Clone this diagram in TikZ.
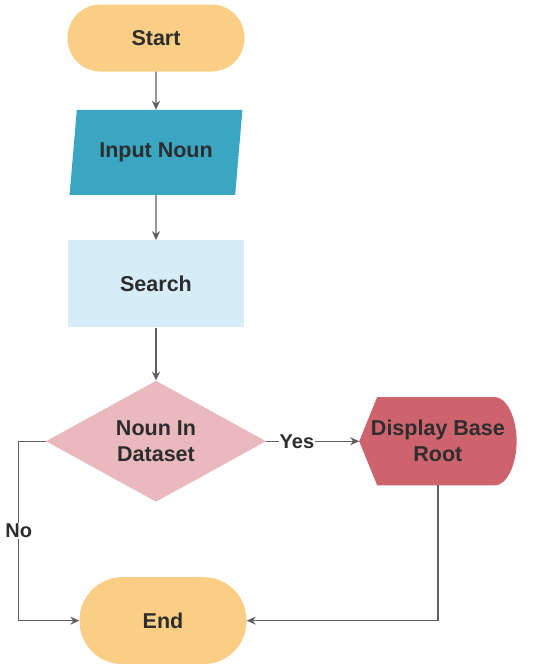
\documentclass[tikz,border=0pt]{standalone}
\usepackage{fontspec}
\setmainfont{Liberation Sans}
\usetikzlibrary{shapes,arrows.meta,positioning,backgrounds}
\definecolor{termcol}{RGB}{250,206,132}
\definecolor{inputcol}{RGB}{58,166,194}
\definecolor{searchcol}{RGB}{214,236,247}
\definecolor{deccol}{RGB}{233,185,189}
\definecolor{dispcol}{RGB}{205,99,109}
\definecolor{linecol}{RGB}{95,95,95}
\definecolor{txtcol}{RGB}{45,45,45}

\begin{document}
\begin{tikzpicture}[x=1pt, y=-1pt, node distance=38pt,
	box/.style={font=\fontsize{21.5}{26}\selectfont\bfseries, text=txtcol, align=center, inner sep=0pt},
	term/.style={box, rectangle, fill=termcol, rounded corners=33pt, minimum width=177pt, minimum height=67pt},
	inbox/.style={box, trapezium, trapezium left angle=75, trapezium right angle=105, trapezium stretches=true, fill=inputcol, minimum width=173pt, minimum height=85pt},
	procbox/.style={box, rectangle, fill=searchcol, minimum width=176pt, minimum height=87pt},
	decbox/.style={box, diamond, fill=deccol, minimum width=220pt, minimum height=115pt},
	dispbox/.style={box, rectangle, minimum width=157pt, minimum height=88pt},
	arr/.style={draw=linecol, line width=1.3pt, -{Stealth[length=9pt,width=8pt]}},
	lbl/.style={fill=white, text=txtcol, font=\fontsize{20}{24}\selectfont\bfseries, inner sep=1pt}]
	\useasboundingbox (0,0) rectangle (542,664);
	\node[term] (start) at (156,38) {Start};
	\node[inbox] (inp) [below=38pt of start] {Input Noun};
	\node[procbox] (search) [below=45pt of inp] {Search};
	\node[decbox] (dec) [below=53pt of search] {Noun In\\Dataset};
	\node[dispbox] (disp) [right=93pt of dec] {Display Base\\Root};
	\node[term, minimum width=167pt, minimum height=87pt, rounded corners=43pt] (end) [below=75pt of dec, xshift=7pt] {End};
	\begin{scope}[on background layer]
		\fill[dispcol] (disp.west) -- ([xshift=18pt]disp.north west) -- ([xshift=-22pt]disp.north east)
			.. controls +(12pt,0pt) and +(0pt,24pt) .. (disp.east)
			.. controls +(0pt,-24pt) and +(12pt,0pt) .. ([xshift=-22pt]disp.south east)
			-- ([xshift=18pt]disp.south west) -- cycle;
	\end{scope}
	\coordinate (nobend) at ([xshift=-27pt]dec.west);
	\draw[arr] (start) -- (inp);
	\draw[arr] (inp) -- (search);
	\draw[arr] (search) -- (dec);
	\draw[arr] (dec) -- node[lbl, pos=0.33] {Yes} (disp);
	\draw[arr] (dec.west) -- (nobend) |- node[lbl, pos=0.25] {No} (end.west);
	\draw[arr] (disp.south) |- (end.east);
\end{tikzpicture}
\end{document}
